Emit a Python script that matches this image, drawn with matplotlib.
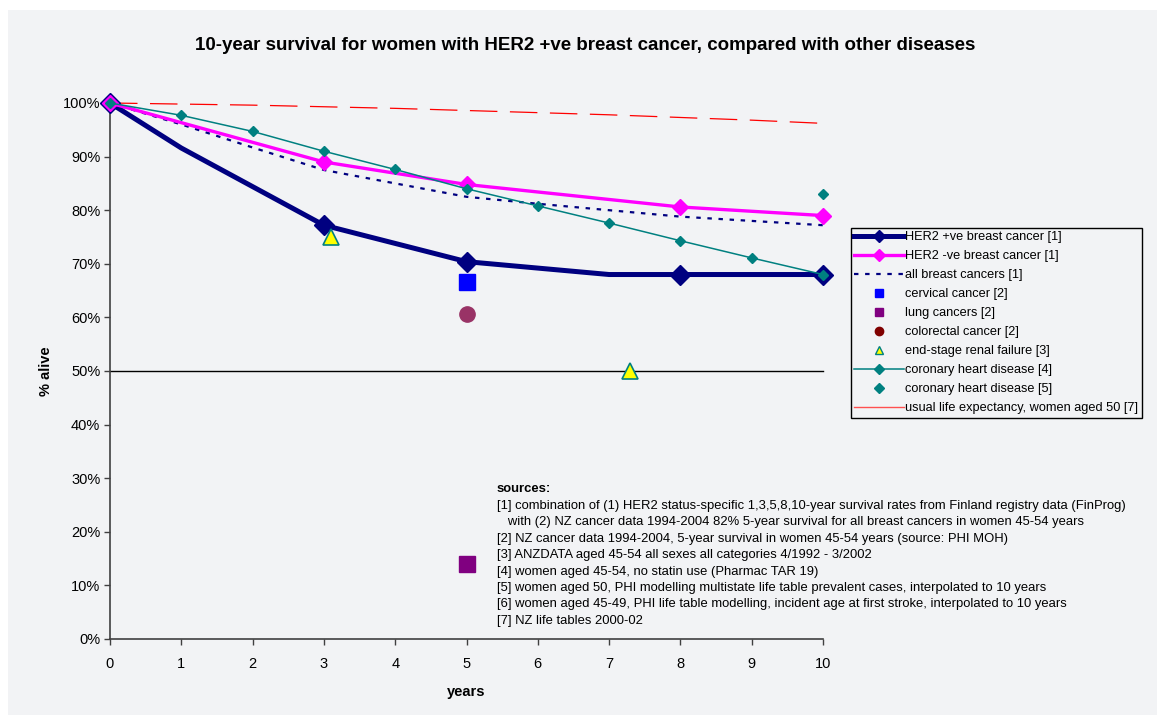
import matplotlib.pyplot as plt
from matplotlib.lines import Line2D
from matplotlib.patches import Rectangle
from matplotlib.ticker import FuncFormatter

plt.rcParams['font.family'] = ['Liberation Sans', 'DejaVu Sans']

BG = '#f2f3f5'

# data
years = [0, 1, 2, 3, 4, 5, 6, 7, 8, 9, 10]

her2_pos_x = [0, 1, 3, 5, 7, 8, 10]
her2_pos_y = [100, 91.6, 77.2, 70.4, 68, 68, 68]
her2_pos_marked = [0, 2, 3, 5, 6]

her2_neg_x = [0, 3, 5, 8, 10]
her2_neg_y = [100, 89.0, 84.8, 80.6, 79.0]

all_breast_y = [100, 96.0, 91.7, 87.5, 85.0, 82.5, 81.2, 80.0, 78.8, 78.0, 77.2]

cervical = (5, 66.6)
lung = (5, 14.0)
colorectal = (5, 60.6)
renal_x = [3.1, 7.3]
renal_y = [75, 50]

chd4_y = [100, 97.7, 94.7, 91.0, 87.6, 84.0, 80.8, 77.6, 74.3, 71.1, 68.0]
chd5 = (10, 83.0)

life_y = [100, 99.8, 99.6, 99.3, 99.0, 98.6, 98.2, 97.8, 97.3, 96.8, 96.2]

labels = ['HER2 +ve breast cancer [1]', 'HER2 -ve breast cancer [1]', 'all breast cancers [1]',
          'cervical cancer [2]', 'lung cancers [2]', 'colorectal cancer [2]',
          'end-stage renal failure [3]', 'coronary heart disease [4]', 'coronary heart disease [5]',
          'usual life expectancy, women aged 50 [7]']

sources = ['[1] combination of (1) HER2 status-specific 1,3,5,8,10-year survival rates from Finland registry data (FinProg)',
           '   with (2) NZ cancer data 1994-2004 82% 5-year survival for all breast cancers in women 45-54 years',
           '[2] NZ cancer data 1994-2004, 5-year survival in women 45-54 years (source: PHI MOH)',
           '[3] ANZDATA aged 45-54 all sexes all categories 4/1992 - 3/2002',
           '[4] women aged 45-54, no statin use (Pharmac TAR 19)',
           '[5] women aged 50, PHI modelling multistate life table prevalent cases, interpolated to 10 years',
           '[6] women aged 45-49, PHI life table modelling, incident age at first stroke, interpolated to 10 years',
           '[7] NZ life tables 2000-02']

fig = plt.figure(figsize=(11.57, 7.15), dpi=100, facecolor='white')
fig.patches.append(Rectangle((8 / 1157, -0.01), 1, 1.01 - 10 / 715, transform=fig.transFigure,
                             facecolor=BG, edgecolor='none', zorder=-10))

ax = fig.add_axes([110 / 1157, 1 - 639 / 715, 713 / 1157, 536 / 715])
ax.set_facecolor(BG)

ax.axhline(50, color='black', lw=1, zorder=1)

ax.plot(years, life_y, color='red', lw=0.9, dashes=(22, 10), zorder=2)
ax.plot(years, all_breast_y, color='#000080', lw=1.6, dashes=(2, 3), zorder=3)
ax.plot(her2_pos_x, her2_pos_y, color='#000080', lw=3.6, marker='D', ms=10,
        markevery=her2_pos_marked, zorder=4)
ax.plot(her2_neg_x, her2_neg_y, color='#ff00ff', lw=2.4, marker='D', ms=8, zorder=5)
ax.plot(years, chd4_y, color='#008080', lw=1.1, marker='D', ms=5, zorder=6)
ax.plot(*chd5, ls='none', marker='D', ms=5.5, color='#008080', zorder=6)

ax.plot(*cervical, ls='none', marker='s', ms=11, color='#0000ff', zorder=6)
ax.plot(*lung, ls='none', marker='s', ms=11, color='#800080', zorder=6)
ax.plot(*colorectal, ls='none', marker='o', ms=11, color='#993366', zorder=6)
ax.plot(renal_x, renal_y, ls='none', marker='^', ms=12, markerfacecolor='#ffff00',
        markeredgecolor='#008080', markeredgewidth=1.2, zorder=7)

ax.set_xlim(0, 10)
ax.set_ylim(0, 100)
ax.set_xticks(range(0, 11))
ax.set_yticks(range(0, 101, 10))
ax.yaxis.set_major_formatter(FuncFormatter(lambda v, p: f'{v:.0f}%'))
ax.tick_params(labelsize=10.5, direction='out', length=4, width=1, color='#404040', pad=3)
ax.tick_params(axis='x', pad=9)
for s in ['top', 'right']:
    ax.spines[s].set_visible(False)
for s in ['left', 'bottom']:
    ax.spines[s].set_color('#404040')
    ax.spines[s].set_linewidth(1.2)
for lab in ax.get_xticklabels() + ax.get_yticklabels():
    lab.set_clip_on(False)
for ln in ax.lines:
    ln.set_clip_on(False)

ax.set_xlabel('years', fontsize=10.5, fontweight='bold', labelpad=10)
ax.set_ylabel('% alive', fontsize=10.5, fontweight='bold', labelpad=7)

fig.text(585 / 1157, 1 - 46 / 715, '10-year survival for women with HER2 +ve breast cancer, compared with other diseases',
         ha='center', va='center', fontsize=13.5, fontweight='bold')

# legend
handles = [
    Line2D([], [], color='#000080', lw=3.6, marker='D', ms=6),
    Line2D([], [], color='#ff00ff', lw=2.4, marker='D', ms=6),
    Line2D([], [], color='#000080', lw=1.6, dashes=(2, 3)),
    Line2D([], [], ls='none', marker='s', ms=6, color='#0000ff'),
    Line2D([], [], ls='none', marker='s', ms=6, color='#800080'),
    Line2D([], [], ls='none', marker='o', ms=6, color='#800000'),
    Line2D([], [], ls='none', marker='^', ms=6, markerfacecolor='#ffff00', markeredgecolor='#008080'),
    Line2D([], [], color='#008080', lw=1.1, marker='D', ms=5),
    Line2D([], [], ls='none', marker='D', ms=5, color='#008080'),
    Line2D([], [], color='#ff5050', lw=1),
]
leg = fig.legend(handles, labels, loc='upper left', bbox_to_anchor=(851 / 1157, 1 - 228 / 715),
                 fontsize=9.2, frameon=True, fancybox=False, edgecolor='black', facecolor=BG,
                 framealpha=1, handlelength=3.9, handletextpad=0.1, labelspacing=0.55,
                 borderpad=0.25, borderaxespad=0)
leg.get_frame().set_linewidth(1)

fig.text(497 / 1157, 1 - 489 / 715, 'sources:', fontsize=9.4, fontweight='bold', va='center')
for i, s in enumerate(sources):
    fig.text(497 / 1157, 1 - (506 + 16.4 * i) / 715, s, fontsize=9.4, va='center')

fig.savefig('out.png', dpi=100, facecolor='white')
